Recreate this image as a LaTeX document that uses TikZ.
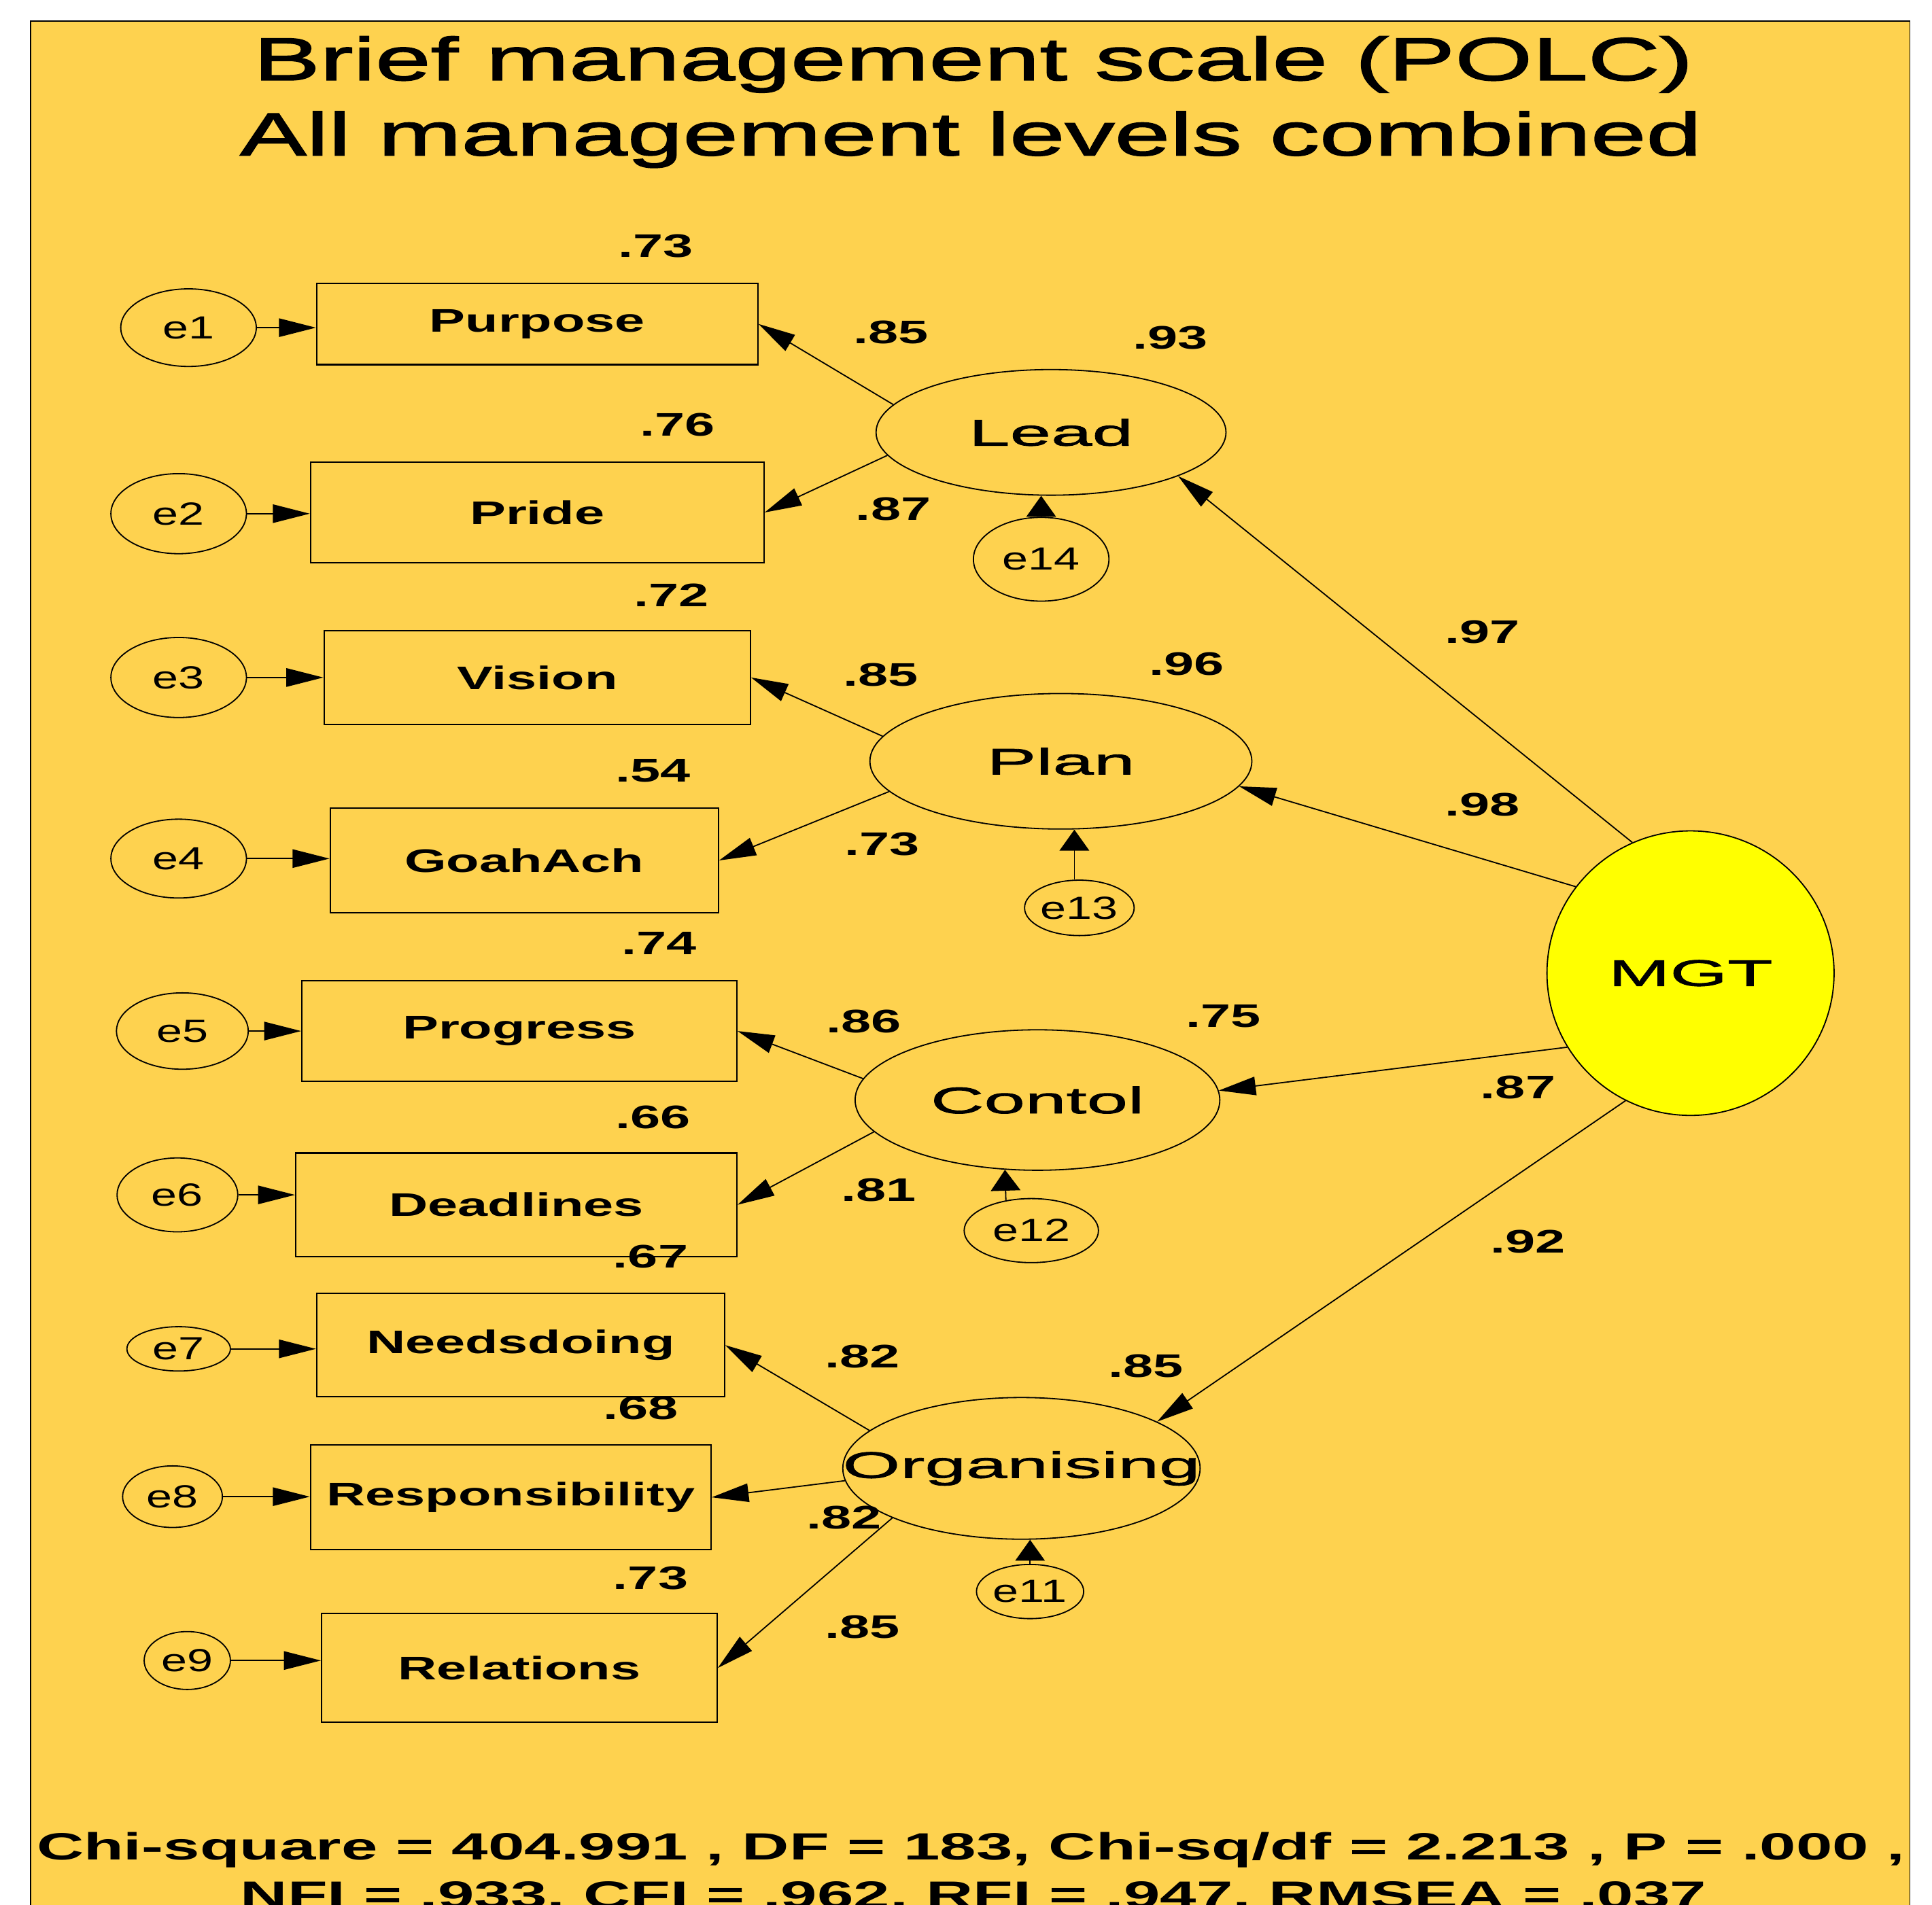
\documentclass[tikz,border=0pt]{standalone}
\usepackage{fontspec}
\setmainfont{Liberation Sans}
\usetikzlibrary{arrows.meta,shapes.geometric}
\definecolor{panel}{HTML}{FED24F}
\definecolor{mgtfill}{HTML}{FFFF00}
\newfontfamily\ttlfont[FakeStretch=1.65,FakeBold=2]{Liberation Sans}
\newfontfamily\obsfont[FakeStretch=1.65]{Liberation Sans}
\newfontfamily\errfont[FakeStretch=1.45]{Liberation Sans}
\newfontfamily\latfont[FakeStretch=2.0,FakeBold=1.5]{Liberation Sans}
\newfontfamily\fitfont[FakeStretch=1.72]{Liberation Sans}

\begin{document}
\begin{tikzpicture}[x=0.5pt,y=-0.5pt,line width=0.5pt,
  obs/.style={draw,line width=0.6pt,inner sep=0pt,
              font=\obsfont\bfseries\fontsize{13.25}{15}\selectfont},
  lat/.style={draw,ellipse,inner sep=0pt,font=\latfont\fontsize{15}{18}\selectfont},
  err/.style={draw,ellipse,inner sep=0pt,font=\errfont\fontsize{13}{15}\selectfont},
  num/.style={inner sep=0pt,font=\obsfont\bfseries\fontsize{13.25}{15}\selectfont},
  ttl/.style={anchor=base,font=\ttlfont\fontsize{24.5}{28}\selectfont},
  fit/.style={anchor=base,font=\fitfont\bfseries\fontsize{15.4}{18}\selectfont},
  w/.style={-{Triangle[length=15pt,width=7.5pt]}},
  wv/.style={-{Triangle[length=8.5pt,width=12pt]}}]
  \useasboundingbox (0,0) rectangle (1568,1546);
  \fill[white] (0,0) rectangle (1568,1546);
  \clip (0,0) rectangle (1568,1546);
  \draw[fill=panel] (25,1560) -- (25,17) -- (1550,17) -- (1550,1560);

  \node[ttl] (t1) at (790,65) {Brief management scale (POLC)};
  \node[ttl] (t2) at (788,126) {All management levels combined};

  % indicators
  \node[obs,minimum width=179pt,minimum height=33pt] (purpose) at (436,263) {Purpose};
  \node[obs,minimum width=184pt,minimum height=41pt] (pride) at (436,416) {Pride};
  \node[obs,minimum width=173pt,minimum height=38pt] (vision) at (436,550) {Vision};
  \node[obs,minimum width=157.5pt,minimum height=42.5pt] (goahach) at (425.5,698.5) {GoahAch};
  \node[obs,minimum width=176.5pt,minimum height=41pt] (progress) at (421.5,837) {Progress};
  \node[obs,minimum width=179pt,minimum height=42pt] (deadlines) at (419,978) {Deadlines};
  \node[obs,minimum width=165.5pt,minimum height=42pt] (needs) at (422.5,1092) {Needsdoing};
  \node[obs,minimum width=162.5pt,minimum height=42.5pt] (resp) at (414.5,1215.5) {Responsibility};
  \node[obs,minimum width=160.5pt,minimum height=44pt] (relations) at (421.5,1354) {Relations};

  % measurement errors
  \node[err,minimum width=55pt,minimum height=31.5pt] (e1) at (153,266) {e1};
  \node[err,minimum width=55pt,minimum height=32.5pt] (e2) at (145,417) {e2};
  \node[err,minimum width=55pt,minimum height=32.5pt] (e3) at (145,550) {e3};
  \node[err,minimum width=55pt,minimum height=32pt] (e4) at (145,697) {e4};
  \node[err,minimum width=53.5pt,minimum height=31pt] (e5) at (148,837) {e5};
  \node[err,minimum width=49pt,minimum height=30pt] (e6) at (144,970) {e6};
  \node[err,minimum width=42pt,minimum height=18pt] (e7) at (145,1095) {e7};
  \node[err,minimum width=40.5pt,minimum height=25pt] (e8) at (140,1215) {e8};
  \node[err,minimum width=35pt,minimum height=23.5pt] (e9) at (152,1348) {e9};

  % factors
  \node[lat,minimum width=142pt,minimum height=51pt] (lead) at (853,351) {Lead};
  \node[lat,minimum width=155pt,minimum height=55pt] (plan) at (861,618) {Plan};
  \node[lat,minimum width=148pt,minimum height=57pt] (contol) at (842,893) {Contol};
  \node[lat,minimum width=145pt,minimum height=57.5pt] (org) at (829,1192) {\makebox[0pt]{Organising}};
  \node[lat,fill=mgtfill,minimum width=116.5pt,minimum height=115.5pt] (mgt) at (1372,790) {MGT};

  % disturbances
  \node[err,minimum width=55pt,minimum height=34pt] (e14) at (845,454) {e14};
  \node[err,minimum width=43.5pt,minimum height=22.5pt] (e13) at (876,737) {e13};
  \node[err,minimum width=54.5pt,minimum height=26pt] (e12) at (837,999) {e12};
  \node[err,minimum width=43.5pt,minimum height=22pt] (e11) at (836,1292) {e11};

  \foreach \e/\b in {e1/purpose,e2/pride,e3/vision,e4/goahach,e5/progress,
                     e6/deadlines,e7/needs,e8/resp,e9/relations}
    \draw[w] (\e.east) -- (\e.east -| \b.west);

  \draw[w] (lead.170) -- (purpose.east);
  \draw[w] (lead.188) -- (pride.east);
  \draw[w] (plan.172) -- (vision.east);
  \draw[w] (plan.190) -- (goahach.east);
  \draw[w] (contol.173) -- (progress.east);
  \draw[w] (contol.191) -- (deadlines.east);
  \draw[w] (org.166) -- (needs.east);
  \draw[w] (org.184) -- (resp.east);
  \draw[w] (org.201) -- (relations.east);

  \draw[w] (mgt.114) -- (lead.341);
  \draw[w] (mgt.143) -- (plan.352);
  \draw[w] (mgt.211) -- (contol.3);
  \draw[w] (mgt.243) -- (org.19);

  \draw[wv] (e14.north) -- (e14.north |- lead.south);
  \draw[wv] (e13.100) -- (e13.100 |- plan.south);
  \draw[wv] (e12.130) -- (contol.245);
  \draw[wv] (e11.north) -- (e11.north |- org.south);

  % squared multiple correlations
  \foreach \x/\y/\v [count=\i] in {532/200/.73,550/345/.76,545/483/.72,530/626/.54,
      535/766/.74,530/907/.66,528/1020/.67,520/1143/.68,528/1281/.73,
      950/274/.93,963/539/.96,993/825/.75,930/1109/.85}
    \node[num] (r\i) at (\x,\y) {\v};
  % loadings
  \foreach \x/\y/\v [count=\i] in {723/270/.85,725/413/.87,715/548/.85,716/685/.73,
      701/829/.86,713/966/.81,700/1101/.82,685/1232/.82,700/1321/.85,
      1203/513/.97,1203/653/.98,1232/883/.87,1240/1008/.92}
    \node[num] (l\i) at (\x,\y) {\v};

  \node[fit] (chi) at (788,1510) {Chi-square = 404.991 , DF = 183, Chi-sq/df = 2.213 , P = .000 ,};
  \node[fit] (idx) at (790,1549) {NFI = .933, CFI = .962, RFI = .947, RMSEA = .037};
\end{tikzpicture}
\end{document}
